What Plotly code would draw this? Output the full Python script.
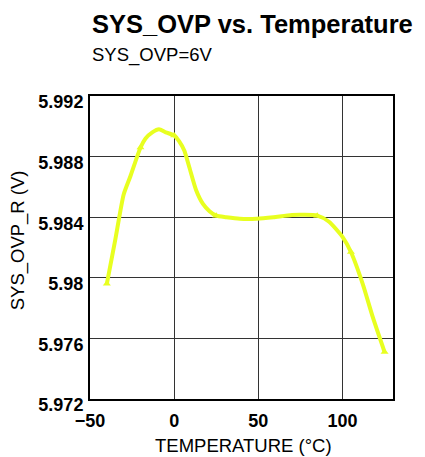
import plotly.graph_objects as go

# Measured points (markers)
temp_pts = [-40, -20, 0, 25, 85, 105, 125]
vout_pts = [5.9796, 5.9886, 5.9894, 5.9841, 5.9841, 5.9817, 5.9751]

# Smoothed curve
curve_t = [-40, -35, -30, -26, -20, -17, -13, -9, -5, 0, 3, 6, 9, 13, 17, 21, 25,
           31, 39, 49, 59, 70, 85, 92, 100, 105, 112, 118, 125]
curve_v = [5.9796, 5.9825, 5.9855, 5.9867, 5.9886, 5.9892, 5.9896, 5.9898, 5.9896,
           5.9894, 5.9890, 5.9884, 5.9873, 5.9858, 5.9849, 5.9844, 5.9841,
           5.9840, 5.9839, 5.9839, 5.9840, 5.98415, 5.9841, 5.9837, 5.9827,
           5.9817, 5.9796, 5.9774, 5.9751]

x_ticks = [-50, 0, 50, 100]
y_ticks = [5.972, 5.976, 5.98, 5.984, 5.988, 5.992]
y_tick_text = ["5.972", "5.976", "5.98", "5.984", "5.988", "5.992"]

title = "SYS_OVP vs. Temperature"
subtitle = "SYS_OVP=6V"
x_title = "TEMPERATURE (°C)"
y_title = "SYS_OVP_R (V)"

color = "#e8ff20"
font = "Liberation Sans, Arial, sans-serif"

fig = go.Figure()
fig.add_trace(go.Scatter(x=curve_t, y=curve_v, mode="lines",
                         line=dict(color=color, width=4, shape="spline", smoothing=0.6),
                         hoverinfo="skip", showlegend=False))
fig.add_trace(go.Scatter(x=temp_pts, y=vout_pts, mode="markers",
                         marker=dict(symbol="triangle-up", size=7, color=color),
                         showlegend=False))

OFF = 8  # page body margin
W, H = 425 - OFF, 457 - OFF
ml, mt = 90 - OFF, 96 - OFF
pw, ph = 303, 303
mr = W - ml - pw
mb = H - mt - ph
bottom = mt + ph  # plot bottom in figure px

fig.update_layout(
    width=W, height=H,
    margin=dict(l=ml, r=mr, t=mt, b=mb),
    paper_bgcolor="white", plot_bgcolor="white",
    font=dict(family=font, color="black"),
    xaxis=dict(range=[-50, 130], tickvals=x_ticks, showgrid=True,
               gridcolor="#333", gridwidth=1, zeroline=False,
               showline=True, linecolor="black", linewidth=2, mirror=True,
               ticks="", ticklabelstandoff=4,
               tickfont=dict(size=18, weight="bold", family=font)),
    yaxis=dict(range=[5.972, 5.992], tickvals=y_ticks, ticktext=y_tick_text,
               showgrid=True, gridcolor="#333", gridwidth=1, zeroline=False,
               showline=True, linecolor="black", linewidth=2, mirror=True,
               ticks="", ticklabelshift=6, ticklabelstandoff=1,
               tickfont=dict(size=18, weight="bold", family=font)),
    annotations=[
        dict(text="<b>" + title + "</b>", xref="paper", yref="paper", x=0,
             y=1 + mt / ph,
             xanchor="left", yanchor="top", showarrow=False,
             font=dict(size=25.5, family=font)),
        dict(text=subtitle, xref="paper", yref="paper", x=0,
             y=1 + (mt - (42.5 - OFF)) / ph,
             xanchor="left", yanchor="top", showarrow=False,
             font=dict(size=18.5, family=font)),
        dict(text=x_title, xref="paper", yref="paper", x=(243 - 90) / pw,
             y=-((432.5 - OFF) - bottom) / ph,
             xanchor="center", yanchor="top", showarrow=False,
             font=dict(size=18.5, family=font)),
        dict(text=y_title, xref="paper", yref="paper", x=(18.3 - 90) / pw,
             y=(399 - 240) / ph,
             xanchor="center", yanchor="middle", textangle=-90, showarrow=False,
             font=dict(size=18.5, family=font)),
    ],
)

fig.write_html("out.html")
